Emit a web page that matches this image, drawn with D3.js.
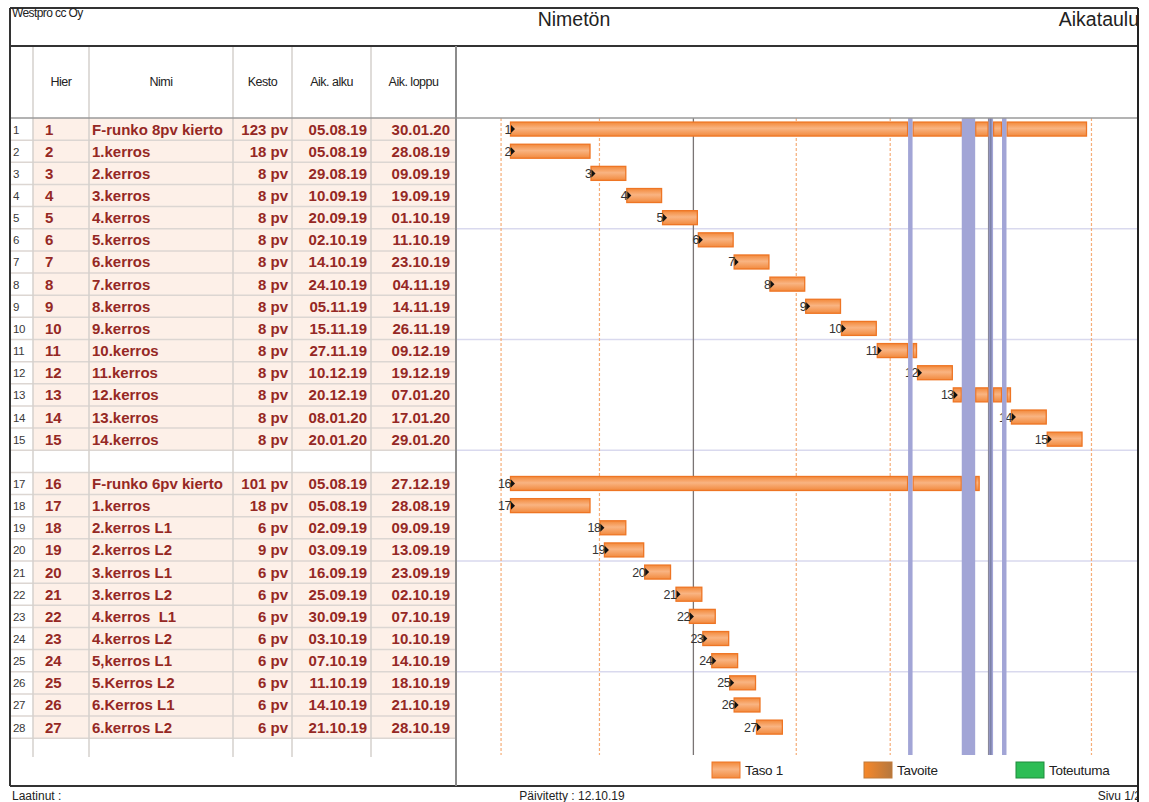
<!DOCTYPE html>
<html><head><meta charset="utf-8">
<script src="https://cdn.jsdelivr.net/npm/d3@7"></script>
<style>
body{margin:0;background:#fff}
svg{display:block}
text{font-family:"Liberation Sans",Arial,sans-serif}
</style>
</head><body>
<svg id="c" width="1149" height="802"></svg>
<script>
// ---------- data ----------
const company = "Westpro cc Oy";
const title = "Nimetön";
const docType = "Aikataulu";
const columnHeaders = ["Hier", "Nimi", "Kesto", "Aik. alku", "Aik. loppu"];
const hierIds = [1,2,3,4,5,6,7,8,9,10,11,12,13,14,15,16,17,18,19,20,21,22,23,24,25,26,27];
const rowNumbers = [1,2,3,4,5,6,7,8,9,10,11,12,13,14,15,17,18,19,20,21,22,23,24,25,26,27,28];
const names = ["F-runko 8pv kierto","1.kerros","2.kerros","3.kerros","4.kerros","5.kerros","6.kerros","7.kerros","8.kerros","9.kerros","10.kerros","11.kerros","12.kerros","13.kerros","14.kerros",
  "F-runko 6pv kierto","1.kerros","2.kerros L1","2.kerros L2","3.kerros L1","3.kerros L2","4.kerros  L1","4.kerros L2","5,kerros L1","5.Kerros L2","6.Kerros L1","6.kerros L2"];
const durations = [123,18,8,8,8,8,8,8,8,8,8,8,8,8,8,101,18,6,9,6,6,6,6,6,6,6,6];
const starts = ["05.08.19","05.08.19","29.08.19","10.09.19","20.09.19","02.10.19","14.10.19","24.10.19","05.11.19","15.11.19","27.11.19","10.12.19","20.12.19","08.01.20","20.01.20",
  "05.08.19","05.08.19","02.09.19","03.09.19","16.09.19","25.09.19","30.09.19","03.10.19","07.10.19","11.10.19","14.10.19","21.10.19"];
const ends = ["30.01.20","28.08.19","09.09.19","19.09.19","01.10.19","11.10.19","23.10.19","04.11.19","14.11.19","26.11.19","09.12.19","19.12.19","07.01.20","17.01.20","29.01.20",
  "27.12.19","28.08.19","09.09.19","13.09.19","23.09.19","02.10.19","07.10.19","10.10.19","14.10.19","18.10.19","21.10.19","28.10.19"];
const holidays = ["06.12.19","24.12.19","25.12.19","26.12.19","01.01.20","06.01.20"];
const monthStarts = ["01.08.19","01.09.19","01.11.19","01.12.19","01.02.20"];
const quarterStarts = ["01.10.19","01.01.20"];
const legendLabels = ["Taso 1","Tavoite","Toteutuma"];
const footerLeft = "Laatinut :";
const footerMid = "Päivitetty : 12.10.19";
const footerRight = "Sivu 1/2";

// ---------- helpers ----------
const parse = d3.timeParse("%d.%m.%y");
const base = parse(starts[0]);
function wd(date){ // working-day index (weekends removed)
  let n = 0;
  if (date >= base){
    for (let d = new Date(base); d < date; d.setDate(d.getDate()+1)) if (d.getDay()%6 !== 0) n++;
  } else {
    for (let d = new Date(date); d < base; d.setDate(d.getDate()+1)) if (d.getDay()%6 !== 0) n--;
  }
  return n;
}
const holIdx = holidays.map(h => wd(parse(h)));
// merge consecutive holidays into bands
const holBands = [];
holIdx.slice().sort((a,b)=>a-b).forEach(k => {
  const last = holBands[holBands.length-1];
  if (last && last[1] === k) last[1] = k+1; else holBands.push([k, k+1]);
});

// ---------- layout ----------
const R = 1138, L = 10, TOP = 8, HEAD = 46, ROW0 = 118, RH = 22.15, NROWS = 29;
const TBOT = 757, FOOT = 786, CHART_L = 456;
const cols = [L, 33, 89, 233, 292, 371, CHART_L];
const svg = d3.select("#c");

const y = d3.scaleBand().domain(d3.range(1, NROWS+1)).range([ROW0, ROW0 + NROWS*RH]).padding(0);
const x = d3.scaleLinear().domain([0, wd(parse(ends[0])) + 1]).range([510, 1087]);

const defs = svg.append("defs");
const g1 = defs.append("linearGradient").attr("id","barG").attr("x1",0).attr("x2",0).attr("y1",0).attr("y2",1);
g1.append("stop").attr("offset","0%").attr("stop-color","#f3893a");
g1.append("stop").attr("offset","45%").attr("stop-color","#f9b482");
g1.append("stop").attr("offset","100%").attr("stop-color","#f28a3e");
const g2 = defs.append("linearGradient").attr("id","tavG");
g2.append("stop").attr("offset","0%").attr("stop-color","#f7882a");
g2.append("stop").attr("offset","100%").attr("stop-color","#b5773e");
defs.append("clipPath").attr("id","pageClip").append("rect").attr("x",0).attr("y",0).attr("width",R).attr("height",802);

const page = svg.append("g").attr("clip-path","url(#pageClip)");

// ---------- table background ----------
page.selectAll("rect.rowbg").data(rowNumbers).join("rect")
  .attr("x", cols[1]).attr("y", d => y(d)).attr("width", cols[6]-cols[1]).attr("height", y.bandwidth())
  .attr("fill", "#fdf0e8");

// row grid lines in table (not below the last, empty row)
page.selectAll("line.rowline").data(d3.range(1, NROWS)).join("line")
  .attr("x1", L).attr("x2", cols[6]).attr("y1", d => y(d) + RH).attr("y2", d => y(d) + RH)
  .attr("stroke", "#dcd6d2").attr("stroke-width", 1.5);

// column lines
page.selectAll("line.col").data(cols.slice(1, 6)).join("line")
  .attr("x1", d => d).attr("x2", d => d).attr("y1", HEAD).attr("y2", TBOT)
  .attr("stroke", "#d4d0cc").attr("stroke-width", 1.5);

// ---------- chart area grid ----------
const chartBottom = 755;
page.selectAll("line.sep").data([5,10,15,20,25]).join("line")
  .attr("x1", CHART_L).attr("x2", R).attr("y1", d => y(d)+RH).attr("y2", d => y(d)+RH)
  .attr("stroke", "#d9d9ee").attr("stroke-width", 1.5);

page.selectAll("line.month").data(monthStarts).join("line")
  .attr("x1", d => x(wd(parse(d)))).attr("x2", d => x(wd(parse(d))))
  .attr("y1", ROW0).attr("y2", chartBottom)
  .attr("stroke", "#f5ad78").attr("stroke-width", 1.2).attr("stroke-dasharray", "3,2");
page.selectAll("line.quarter").data(quarterStarts).join("line")
  .attr("x1", d => x(wd(parse(d)))).attr("x2", d => x(wd(parse(d))))
  .attr("y1", ROW0).attr("y2", chartBottom)
  .attr("stroke", "#7a7474").attr("stroke-width", 1.3);

// ---------- bars ----------
const tasks = hierIds.map((id, i) => ({
  id, row: rowNumbers[i], name: names[i], dur: durations[i],
  s: starts[i], e: ends[i], a: wd(parse(starts[i])), b: wd(parse(ends[i])) + 1
}));
function segments(t){
  const segs = []; let cur = t.a;
  for (let k = t.a; k < t.b; k++){
    if (holIdx.includes(k)){ if (k > cur) segs.push([cur, k]); cur = k+1; }
  }
  if (t.b > cur) segs.push([cur, t.b]);
  return segs;
}
const BH = 14;
const barG = page.append("g");
tasks.forEach(t => {
  const cy = y(t.row) + RH/2;
  barG.selectAll(null).data(segments(t)).join("rect")
    .attr("x", d => x(d[0])+0.5).attr("y", cy - BH/2)
    .attr("width", d => Math.max(1, x(d[1]) - x(d[0]) - 1)).attr("height", BH)
    .attr("fill", "url(#barG)").attr("stroke", "#ee7524").attr("stroke-width", 1.3);
  barG.append("path")
    .attr("d", `M${x(t.a)+1},${cy-4} L${x(t.a)+5},${cy} L${x(t.a)+1},${cy+4} Z`)
    .attr("fill", "#111");
  barG.append("text").attr("x", x(t.a)+1).attr("y", cy+4.5).attr("text-anchor","end")
    .attr("font-size", 12.5).attr("fill", "#333").attr("letter-spacing", -0.5).text(t.id);
});

// holidays on top
page.selectAll("rect.hol").data(holBands).join("rect")
  .attr("x", d => x(d[0])).attr("y", ROW0).attr("width", d => x(d[1])-x(d[0])).attr("height", chartBottom-ROW0)
  .attr("fill", "#a2a5d6");
page.selectAll("line.q2").data(quarterStarts.filter(d => holIdx.includes(wd(parse(d))))).join("line")
  .attr("x1", d => x(wd(parse(d)))+2).attr("x2", d => x(wd(parse(d)))+2)
  .attr("y1", ROW0).attr("y2", chartBottom)
  .attr("stroke", "#7d82a8").attr("stroke-width", 2);

// ---------- table text ----------
const red = "#952824";
const tt = page.append("g").attr("font-weight","bold").attr("font-size",15).attr("fill",red);
tasks.forEach(t => {
  const by = y(t.row) + RH/2 + 5.5;
  tt.append("text").attr("x", 45).attr("y", by).text(t.id);
  tt.append("text").attr("x", 92).attr("y", by).style("white-space","pre").text(t.name);
  tt.append("text").attr("x", 288).attr("y", by).attr("text-anchor","end").text(t.dur + " pv");
  tt.append("text").attr("x", 367).attr("y", by).attr("text-anchor","end").text(t.s);
  tt.append("text").attr("x", 450).attr("y", by).attr("text-anchor","end").text(t.e);
});
page.selectAll("text.rn").data(rowNumbers).join("text")
  .attr("x", 13).attr("y", d => y(d)+RH/2+4.5).attr("font-size", 11.5).attr("fill", "#3a3a3a")
  .attr("letter-spacing", -0.4).text(d => d);

// column headers
const hx = [(cols[1]+cols[2])/2, (cols[2]+cols[3])/2, (cols[3]+cols[4])/2, (cols[4]+cols[5])/2, (cols[5]+cols[6])/2];
page.selectAll("text.hd").data(columnHeaders).join("text")
  .attr("x", (d,i) => hx[i]).attr("y", 86).attr("text-anchor","middle")
  .attr("font-size", 12.5).attr("fill", "#222").attr("letter-spacing", -0.5).text(d => d);

// ---------- frame ----------
const frame = page.append("g").attr("stroke", "#333").attr("fill", "none");
frame.append("line").attr("x1", L).attr("x2", R).attr("y1", TOP).attr("y2", TOP).attr("stroke-width", 2);
frame.append("line").attr("x1", L).attr("x2", R).attr("y1", HEAD).attr("y2", HEAD).attr("stroke-width", 2);
frame.append("line").attr("x1", L).attr("x2", R).attr("y1", ROW0).attr("y2", ROW0).attr("stroke", "#9a9a9a").attr("stroke-width", 1.5);
frame.append("line").attr("x1", L).attr("x2", R).attr("y1", FOOT).attr("y2", FOOT).attr("stroke-width", 2);
frame.append("line").attr("x1", L).attr("x2", L).attr("y1", TOP).attr("y2", FOOT).attr("stroke-width", 2);
frame.append("line").attr("x1", CHART_L).attr("x2", CHART_L).attr("y1", HEAD).attr("y2", FOOT).attr("stroke", "#8c8c8c").attr("stroke-width", 2);

// ---------- titles ----------
page.append("text").attr("x", 12).attr("y", 17).attr("font-size", 12).attr("letter-spacing", -0.6).attr("fill","#222").text(company);
page.append("text").attr("x", 574).attr("y", 26).attr("text-anchor","middle").attr("font-size", 19.5).attr("fill","#222").text(title);
page.append("text").attr("x", 1139).attr("y", 26).attr("text-anchor","end").attr("font-size", 19.5).attr("fill","#222").text(docType);

// ---------- legend ----------
const legX = [712, 864, 1016];
const legFill = ["url(#barG)", "url(#tavG)", "#2dbd55"];
const legStroke = ["#ee7524", "#c07a3a", "#1e8c3c"];
const lg = page.append("g");
lg.selectAll("rect").data(legendLabels).join("rect")
  .attr("x", (d,i) => legX[i]).attr("y", 762).attr("width", 28).attr("height", 16)
  .attr("fill", (d,i) => legFill[i]).attr("stroke", (d,i) => legStroke[i]).attr("stroke-width", 1);
lg.selectAll("text").data(legendLabels).join("text")
  .attr("x", (d,i) => legX[i] + 33).attr("y", 775).attr("font-size", 13.5).attr("fill","#222")
  .attr("letter-spacing", -0.3).text(d => d);

// ---------- footer ----------
page.append("text").attr("x", 12).attr("y", 800).attr("font-size", 12).attr("fill","#222").text(footerLeft);
page.append("text").attr("x", 572).attr("y", 800).attr("text-anchor","middle").attr("font-size", 12).attr("fill","#222").text(footerMid);
page.append("text").attr("x", 1141).attr("y", 800).attr("text-anchor","end").attr("font-size", 12).attr("fill","#222").text(footerRight);

// right border
svg.append("line").attr("x1", R).attr("x2", R).attr("y1", TOP).attr("y2", 802).attr("stroke", "#222").attr("stroke-width", 2);
</script>
</body></html>
